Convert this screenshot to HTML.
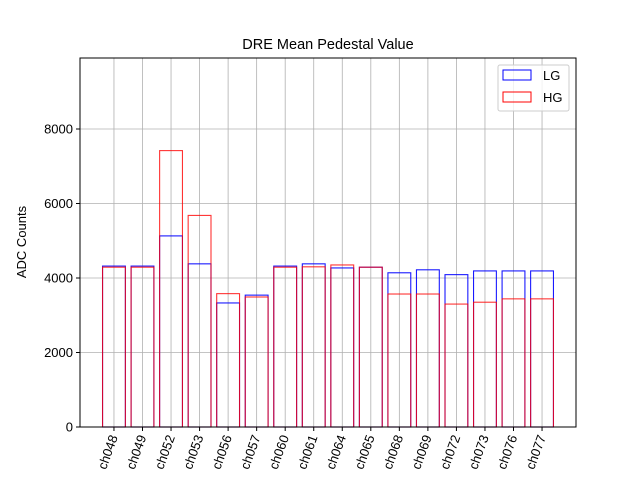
<!DOCTYPE html>
<html><head><meta charset="utf-8"><style>
body{margin:0;background:#fff}
svg{display:block;font-family:"Liberation Sans","DejaVu Sans",sans-serif}
</style></head><body>
<svg id="chart" width="640" height="480">
<rect width="640" height="480" fill="#fff"/>
<g id="grid"></g>
<g id="bars"></g>
<rect x="80" y="58" width="496" height="369" fill="none" stroke="#000" stroke-width="1"/>
<g id="ticks"></g>
<text x="328" y="49" text-anchor="middle" font-size="14.5">DRE Mean Pedestal Value</text>
<text transform="translate(26,242) rotate(-90)" text-anchor="middle" font-size="13">ADC Counts</text>
<g>
<rect x="498" y="65" width="71" height="46" rx="2" fill="#fff" fill-opacity="0.8" stroke="#ccc"/>
<rect x="503" y="70" width="28" height="10" fill="none" stroke="blue"/>
<text x="543" y="80" font-size="13">LG</text>
<rect x="503" y="92" width="28" height="10" fill="none" stroke="red"/>
<text x="543" y="102" font-size="13">HG</text>
</g>
</svg>
<script>
const categories=["ch048","ch049","ch052","ch053","ch056","ch057","ch060","ch061","ch064","ch065","ch068","ch069","ch072","ch073","ch076","ch077"];
const lgValues=[4320,4320,5130,4380,3330,3540,4320,4380,4270,4290,4140,4220,4090,4190,4190,4190];
const hgValues=[4290,4290,7420,5680,3580,3490,4290,4300,4350,4290,3570,3570,3300,3350,3440,3440];
const yTicks=[0,2000,4000,6000,8000];
const NS="http://www.w3.org/2000/svg";
const L=80,R=576,T=58,B=427,yMax=9906;
const n=categories.length,xMin=-0.4-0.79,xMax=n-1+0.4+0.79;
const xs=i=>L+(i-xMin)/(xMax-xMin)*(R-L);
const ys=v=>B-v/yMax*(B-T);
const pxPerUnit=(R-L)/(xMax-xMin),bw=0.8*pxPerUnit;
function mk(tag,attrs,parent){const e=document.createElementNS(NS,tag);for(const k in attrs)e.setAttribute(k,attrs[k]);document.getElementById(parent).appendChild(e);return e;}
categories.forEach((c,i)=>{
 const g=mk("line",{x1:xs(i),x2:xs(i),y1:T,y2:B,stroke:"#b0b0b0","stroke-width":0.8},"grid");
 
 
 const t=mk("line",{x1:xs(i),x2:xs(i),y1:B,y2:B+4,stroke:"#000"},"ticks");
 
 
 const tx=mk("text",{transform:`translate(${xs(i)+4},${B+10}) rotate(-70)`,"text-anchor":"end","font-size":13},"ticks");
 tx.textContent=c;
 
 
});
yTicks.forEach(v=>{
 const g=mk("line",{x1:L,x2:R,y1:ys(v),y2:ys(v),stroke:"#b0b0b0","stroke-width":0.8},"grid");
 
 
 const t=mk("line",{x1:L-4,x2:L,y1:ys(v),y2:ys(v),stroke:"#000"},"ticks");
 
 
 const tx=mk("text",{x:L-7,y:ys(v)+4.5,"text-anchor":"end","font-size":13},"ticks");
 tx.textContent=v;
 
 
});
lgValues.forEach((v,i)=>{
 const r=mk("rect",{x:xs(i)-bw/2,y:ys(v),width:bw,height:B-ys(v),fill:"none",stroke:"blue","stroke-opacity":0.9,"stroke-width":1.1},"bars");
 
 
});
hgValues.forEach((v,i)=>{
 const r=mk("rect",{x:xs(i)-bw/2,y:ys(v),width:bw,height:B-ys(v),fill:"none",stroke:"red","stroke-opacity":0.8,"stroke-width":1.1},"bars");
 
 
});
</script>
</body></html>
